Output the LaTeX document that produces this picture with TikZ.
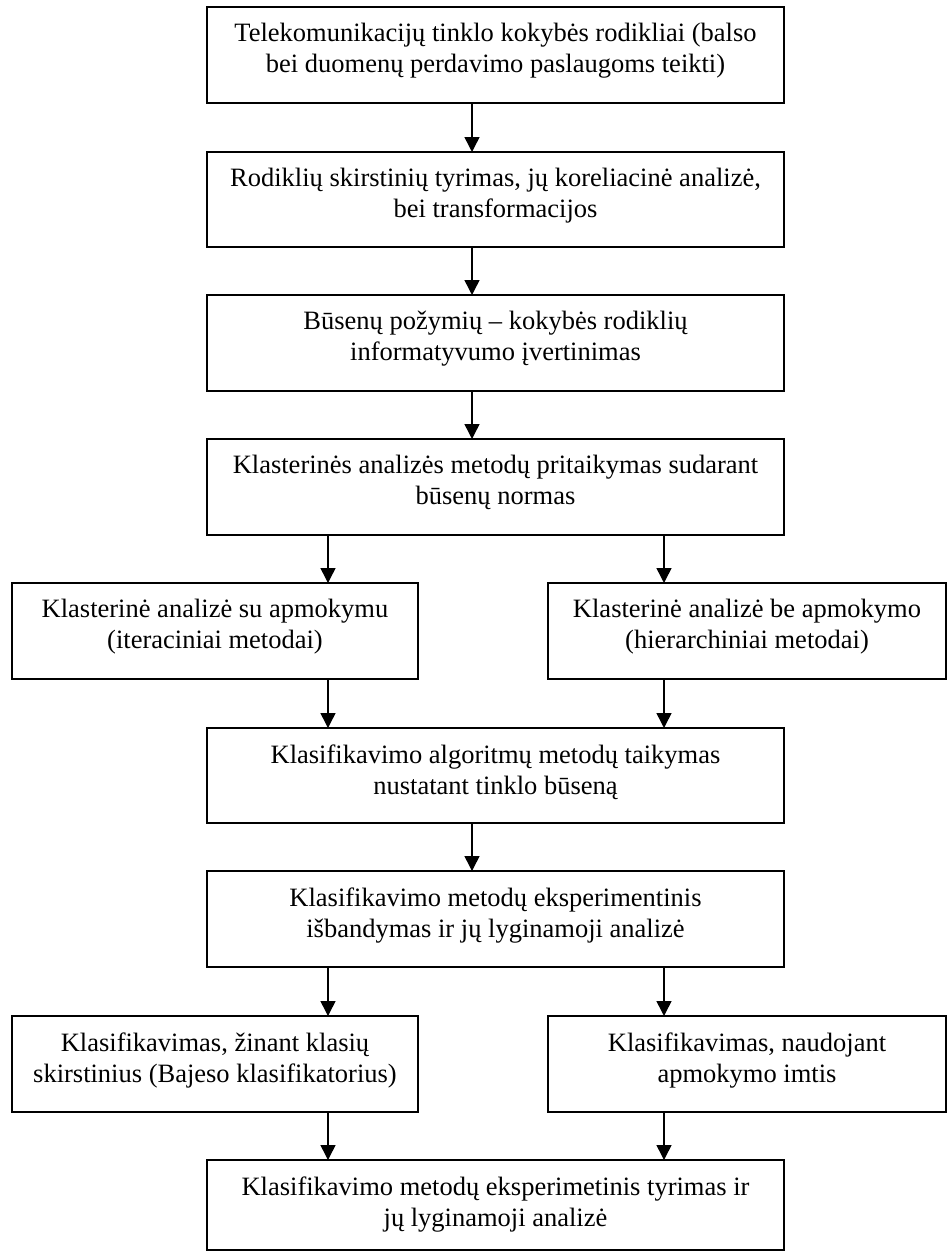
\documentclass[tikz,border=0pt]{standalone}
\usepackage{fontspec}
\setmainfont{Liberation Serif}
\usetikzlibrary{arrows.meta,calc}
\begin{document}
\begin{tikzpicture}[x=0.5pt,y=-0.5pt,
  boxframe/.style={draw=black,line width=1pt,fill=white},
  boxtext/.style={anchor=north,inner sep=0pt,align=center,
    font=\fontsize{13.25pt}{15.5pt}\selectfont,yshift=-8pt},
  flow/.style={line width=0.75pt,-{Triangle[width=7.5pt,length=7.5pt]}}]
\useasboundingbox (0,0) rectangle (948,1252);
\fill[white] (0,0) rectangle (948,1252);

% frames
\draw[boxframe] (207,7) rectangle (784,103);
\draw[boxframe] (207,152) rectangle (784,247);
\draw[boxframe] (207,295) rectangle (784,391);
\draw[boxframe] (207,439) rectangle (784,535);
\draw[boxframe] (12,583) rectangle (418,679);
\draw[boxframe] (548,583) rectangle (946,679);
\draw[boxframe] (207,728) rectangle (784,823);
\draw[boxframe] (207,871) rectangle (784,967);
\draw[boxframe] (12,1016) rectangle (418,1112);
\draw[boxframe] (548,1016) rectangle (946,1112);
\draw[boxframe] (207,1160) rectangle (784,1250);

% named anchors of each frame (top and bottom edges)
\path (495.5,7) coordinate (b1n) (495.5,103) coordinate (b1s)
      (495.5,152) coordinate (b2n) (495.5,247) coordinate (b2s)
      (495.5,295) coordinate (b3n) (495.5,391) coordinate (b3s)
      (495.5,439) coordinate (b4n) (495.5,535) coordinate (b4s)
      (215,583) coordinate (l1n) (215,679) coordinate (l1s)
      (747,583) coordinate (r1n) (747,679) coordinate (r1s)
      (495.5,728) coordinate (b6n) (495.5,823) coordinate (b6s)
      (495.5,871) coordinate (b7n) (495.5,967) coordinate (b7s)
      (215,1016) coordinate (l2n) (215,1112) coordinate (l2s)
      (747,1016) coordinate (r2n) (747,1112) coordinate (r2s)
      (495.5,1160) coordinate (b9n);

% vertical guide lines of the connectors
\coordinate (mx) at (472,0);
\coordinate (lx) at (328,0);
\coordinate (rx) at (664,0);

% texts
\node[boxtext] (t1) at (b1n) {Telekomunikacijų tinklo kokybės rodikliai (balso\\bei duomenų perdavimo paslaugoms teikti)};
\node[boxtext] (t2) at (b2n) {Rodiklių skirstinių tyrimas, jų koreliacinė analizė,\\bei transformacijos};
\node[boxtext] (t3) at (b3n) {Būsenų požymių – kokybės rodiklių\\informatyvumo įvertinimas};
\node[boxtext] (t4) at (b4n) {Klasterinės analizės metodų pritaikymas sudarant\\būsenų normas};
\node[boxtext] (t5l) at (l1n) {Klasterinė analizė su apmokymu\\(iteraciniai metodai)};
\node[boxtext] (t5r) at (r1n) {Klasterinė analizė be apmokymo\\(hierarchiniai metodai)};
\node[boxtext] (t6) at (b6n) {Klasifikavimo algoritmų metodų taikymas\\nustatant tinklo būseną};
\node[boxtext] (t7) at (b7n) {Klasifikavimo metodų eksperimentinis\\išbandymas ir jų lyginamoji analizė};
\node[boxtext] (t8l) at (l2n) {Klasifikavimas, žinant klasių\\skirstinius (Bajeso klasifikatorius)};
\node[boxtext] (t8r) at (r2n) {Klasifikavimas, naudojant\\apmokymo imtis};
\node[boxtext] (t9) at (b9n) {Klasifikavimo metodų eksperimetinis tyrimas ir\\jų lyginamoji analizė};

% connectors
\draw[flow] (b1s -| mx) -- (b2n -| mx);
\draw[flow] (b2s -| mx) -- (b3n -| mx);
\draw[flow] (b3s -| mx) -- (b4n -| mx);
\draw[flow] (b4s -| lx) -- (l1n -| lx);
\draw[flow] (b4s -| rx) -- (r1n -| rx);
\draw[flow] (l1s -| lx) -- (b6n -| lx);
\draw[flow] (r1s -| rx) -- (b6n -| rx);
\draw[flow] (b6s -| mx) -- (b7n -| mx);
\draw[flow] (b7s -| lx) -- (l2n -| lx);
\draw[flow] (b7s -| rx) -- (r2n -| rx);
\draw[flow] (l2s -| lx) -- (b9n -| lx);
\draw[flow] (r2s -| rx) -- (b9n -| rx);
\end{tikzpicture}
\end{document}
